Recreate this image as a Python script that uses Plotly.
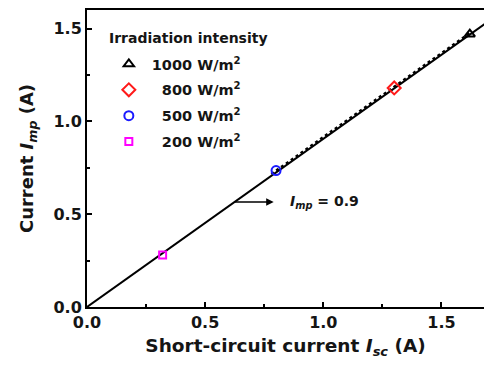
import plotly.graph_objects as go

# Data
intensity_labels = ["\u20091000 W/m<sup>2</sup>", "\u2009\u2007800 W/m<sup>2</sup>",
                    "\u2009\u2007500 W/m<sup>2</sup>", "\u2009\u2007200 W/m<sup>2</sup>"]
isc = [1.62, 1.30, 0.80, 0.32]
imp = [1.47, 1.18, 0.735, 0.28]
symbols = ["triangle-up-open", "diamond-open", "circle-open", "square-open"]
colors = ["black", "#ff1a1a", "#1a1aff", "#ff00ff"]
sizes = [9, 10, 9, 7]

fit_x = [0.0, 1.70]
fit_y = [0.0, 1.54]
sim_x = [0.78, 1.62]
sim_y = [0.716, 1.476]

tick_vals = [0, 0.5, 1.0, 1.5]
tick_text = ["0.0", "0.5", "1.0", "1.5"]
minor_vals = [0.25, 0.75, 1.25]

FONT = "DejaVu Sans, sans-serif"
TXT = "#151515"

fig = go.Figure()
fig.add_trace(go.Scatter(x=fit_x, y=fit_y, mode="lines",
                         line=dict(color="black", width=2), showlegend=False))
fig.add_trace(go.Scatter(x=sim_x, y=sim_y, mode="lines",
                         line=dict(color="black", width=2.5, dash="dot"), showlegend=False))
for i in range(len(isc)):
    fig.add_trace(go.Scatter(
        x=[isc[i]], y=[imp[i]], mode="markers", name=intensity_labels[i],
        legendgroup=str(i), cliponaxis=False,
        marker=dict(symbol=symbols[i], size=sizes[i], color=colors[i],
                    line=dict(width=2, color=colors[i])),
    ))

fig.add_annotation(x=0.79, y=0.565, ax=0.62, ay=0.565, xref="x", yref="y",
                   axref="x", ayref="y", showarrow=True, arrowhead=2,
                   arrowsize=1, arrowwidth=1.5, arrowcolor="black", text="")
fig.add_annotation(x=0.85, y=0.565, xref="x", yref="y", xanchor="left",
                   showarrow=False,
                   text="<i>I</i><sub><i>mp</i></sub> = 0.9",
                   font=dict(family=FONT, size=14, color=TXT, weight="bold"))
fig.add_annotation(x=0.05, y=0.906, xref="paper", yref="paper", xanchor="left",
                   yanchor="middle", showarrow=False, text="Irradiation intensity",
                   font=dict(family=FONT, size=14, color=TXT, weight="bold"))

fig.update_layout(
    width=484, height=366,
    margin=dict(l=87, r=0, t=10, b=59),
    plot_bgcolor="white", paper_bgcolor="white",
    font=dict(family=FONT, size=15, color=TXT, weight="bold"),
    legend=dict(x=0.055, y=0.872, xanchor="left", yanchor="top",
                bgcolor="rgba(0,0,0,0)", itemsizing="trace",
                font=dict(size=14.5, weight="bold"),
                traceorder="grouped", tracegroupgap=4, itemwidth=30),
    xaxis=dict(range=[0, 1.68], showline=True, linecolor="black", linewidth=2,
               mirror=True, showgrid=False, zeroline=False, automargin=False,
               tickvals=tick_vals, ticktext=tick_text,
               ticks="inside", ticklen=5, tickwidth=1.5, tickcolor="black",
               minor=dict(ticks="inside", ticklen=3, tickwidth=1.5, tickcolor="black",
                          tickvals=minor_vals),
               tickfont=dict(size=16, weight="bold"),
               title=dict(text="Short-circuit current <i>I</i><sub><i>sc</i></sub> (A)",
                          font=dict(size=18.5, weight="bold"), standoff=8)),
    yaxis=dict(range=[0, 1.6], showline=True, linecolor="black", linewidth=2,
               mirror=False, showgrid=False, zeroline=False, automargin=False,
               tickvals=tick_vals, ticktext=tick_text,
               ticks="inside", ticklen=5, tickwidth=1.5, tickcolor="black",
               minor=dict(ticks="inside", ticklen=3, tickwidth=1.5, tickcolor="black",
                          tickvals=minor_vals),
               tickfont=dict(size=16, weight="bold"),
               title=dict(text="Current <i>I</i><sub><i>mp</i></sub> (A)",
                          font=dict(size=18, weight="bold"), standoff=15)),
)

fig.write_html("out.html", config={"displayModeBar": False},
               post_script="document.body.style.margin='0';document.body.style.overflow='hidden';")
